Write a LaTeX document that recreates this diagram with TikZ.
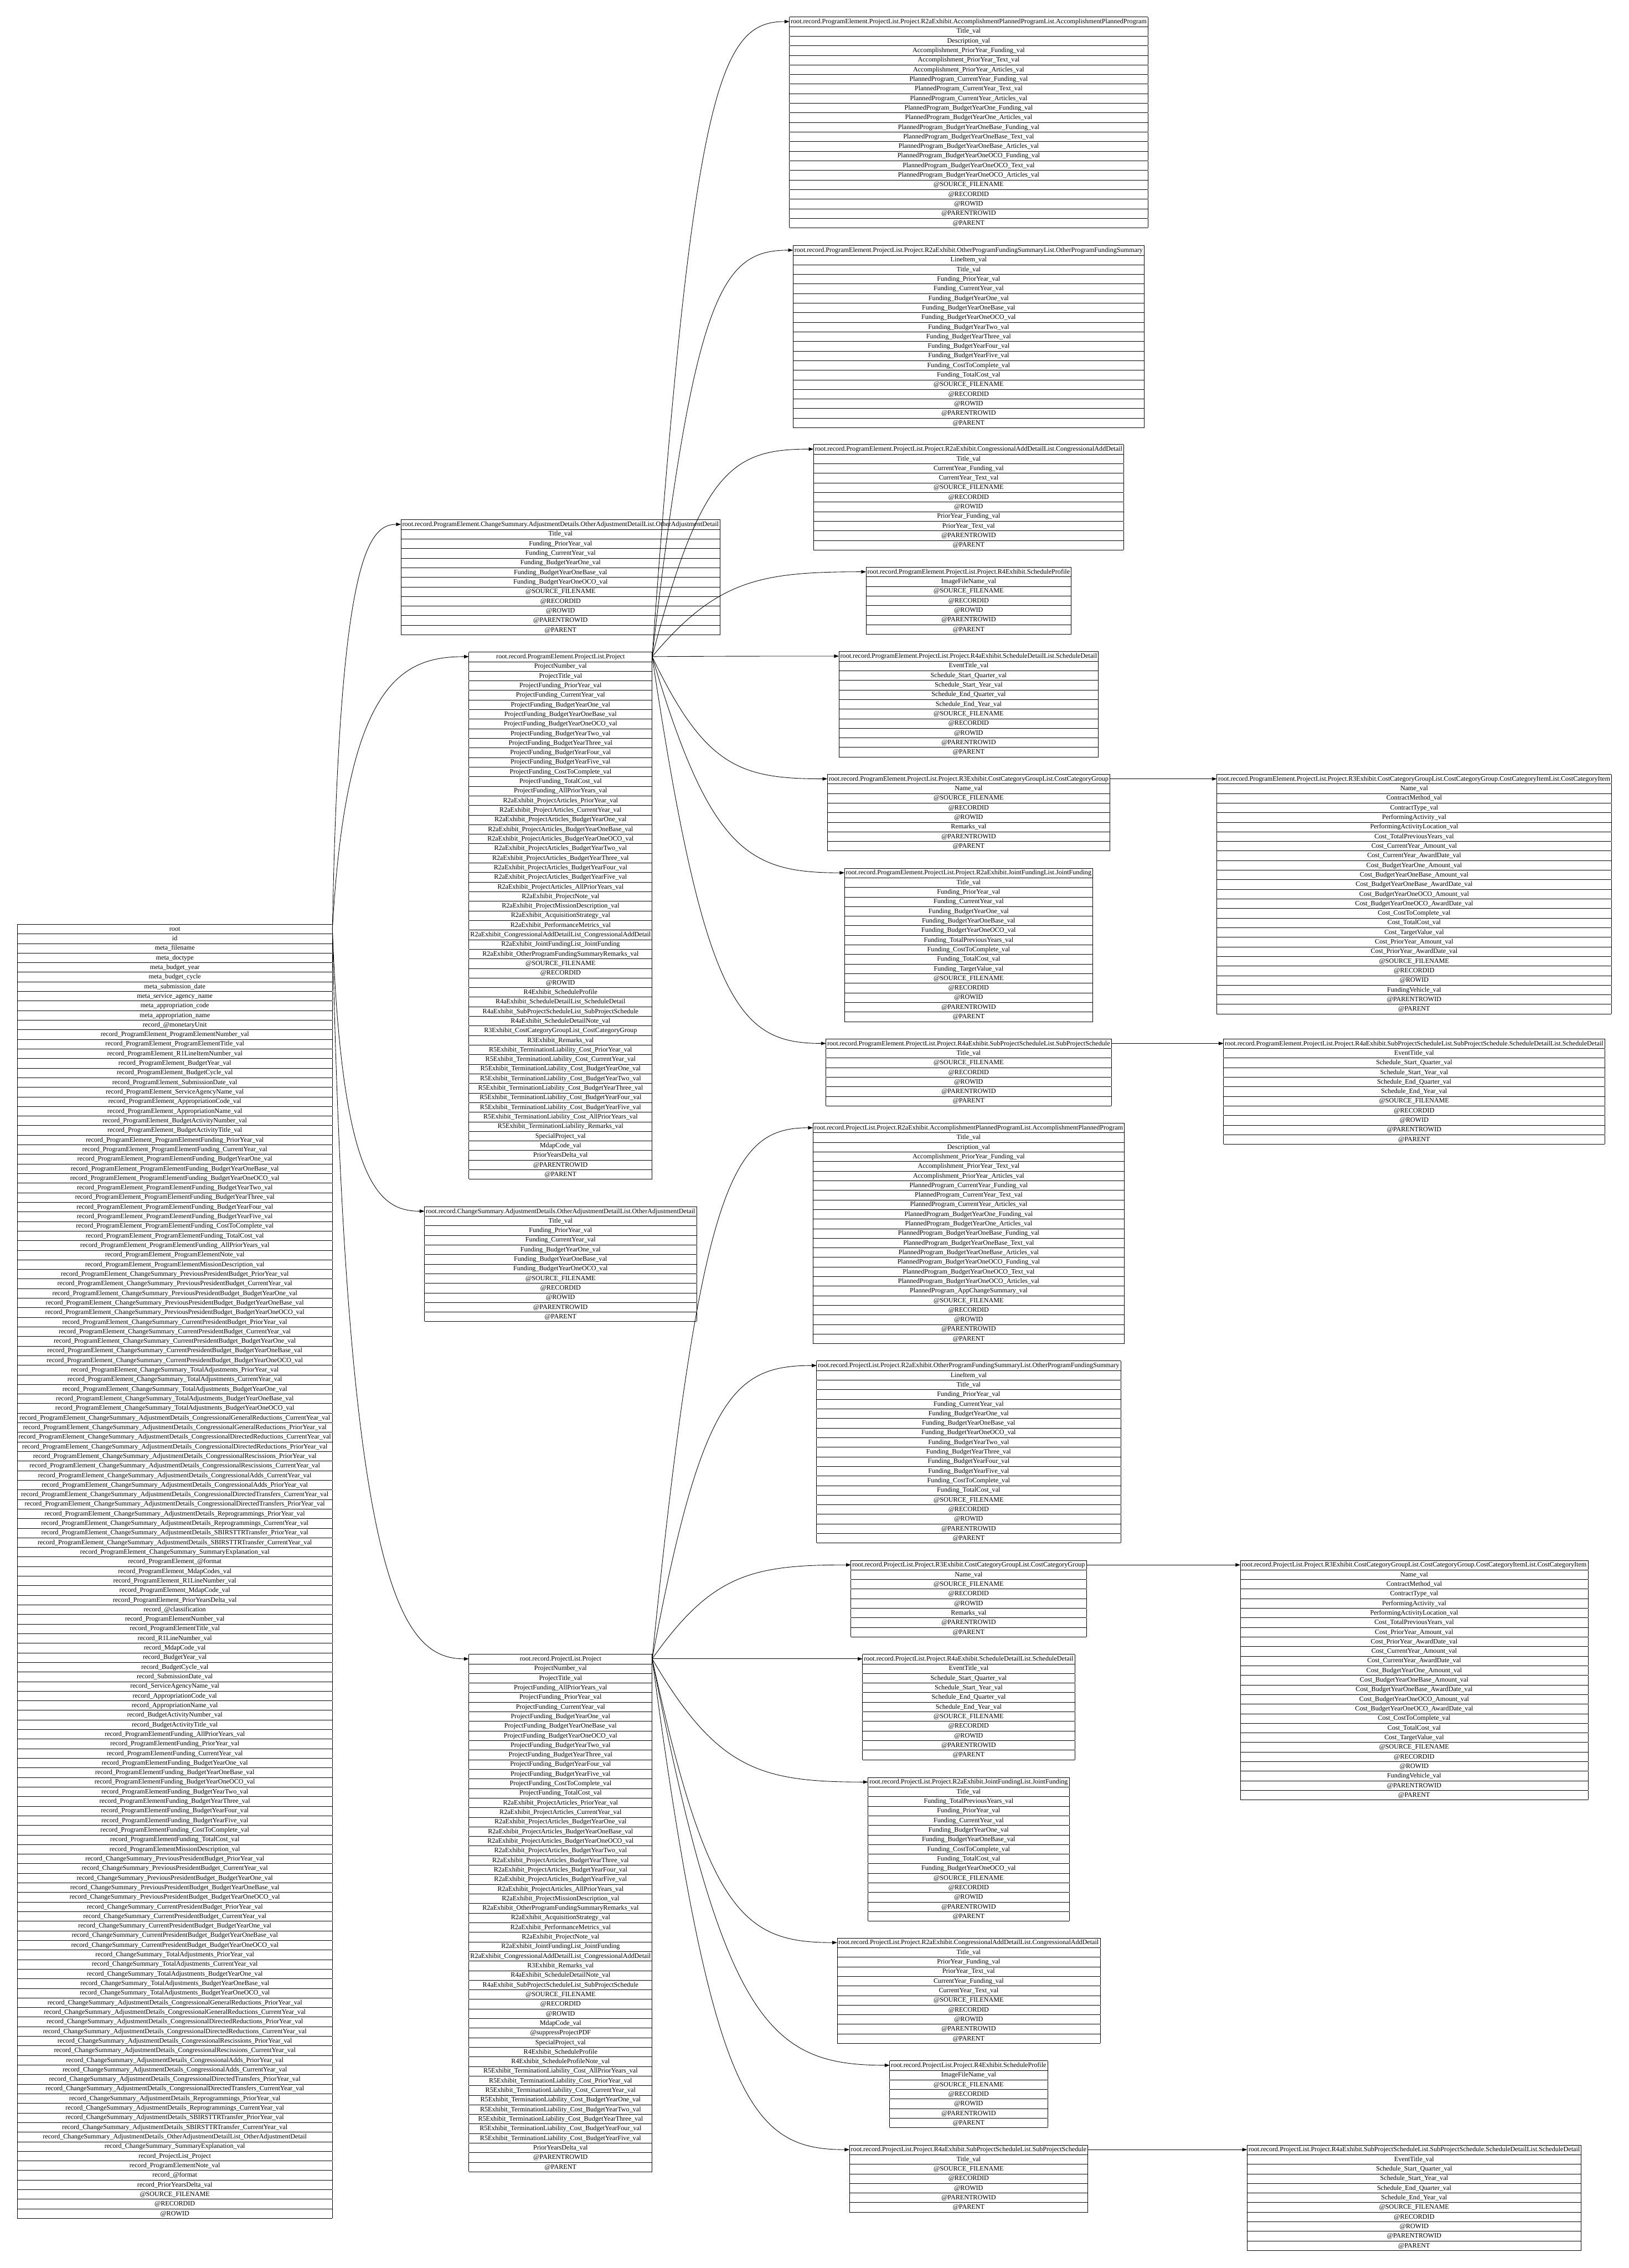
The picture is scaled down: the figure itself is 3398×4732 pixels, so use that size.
\documentclass[tikz,border=0pt]{standalone}
\usepackage{fontspec}
\setmainfont{Liberation Serif}
\usetikzlibrary{arrows.meta,calc}

\ExplSyntaxOn
\tl_new:N \l_rowlist_tl
\NewDocumentCommand \rowlist { m }
  {
    \tl_clear:N \l_rowlist_tl
    \clist_map_inline:nn {#1} { \tl_put_right:Nn \l_rowlist_tl { ##1 \\ \hline } }
    \tl_use:N \l_rowlist_tl
  }
\ExplSyntaxOff
\newcommand\tbl[2]{\begin{tabular}{|c|}\hline #1\\\hline\rowlist{#2}\end{tabular}}

\setlength\arrayrulewidth{.8pt}
\setlength\tabcolsep{3pt}
\renewcommand\arraystretch{1.142857}

\tikzset{
  rec/.style={anchor=north,inner sep=0pt,outer sep=0pt,font=\fontsize{14}{16.8}\selectfont},
  edge/.style={-{Triangle[length=10pt,width=7pt]},line width=1pt}
}
% curved connector from the header row of #2 to the header row of #3
\newcommand\link[3][.3]{%
  \draw[edge] let \p1=([yshift=-10pt]#2.north east), \p2=([yshift=-10pt]#3.north west) in
    (\p1) .. controls ({\x1+#1*(\x2-\x1)},{\y1+.9*(\y2-\y1)}) and ({.5*(\x1+\x2)},\y2) .. (\p2);}

\begin{document}
\catcode`\_=12
\begin{tikzpicture}[x=1pt,y=-1pt]
  \fill[white] (0,0) rectangle (3398,4732);
  \useasboundingbox (0,0) rectangle (3398,4732);

  % flat root table
  \node[rec] (root) at (364.7,1928) {\tbl{root}{id,meta_filename,meta_doctype,meta_budget_year,meta_budget_cycle,meta_submission_date,meta_service_agency_name,meta_appropriation_code,meta_appropriation_name,record_@monetaryUnit,
    record_ProgramElement_ProgramElementNumber_val,record_ProgramElement_ProgramElementTitle_val,record_ProgramElement_R1LineItemNumber_val,record_ProgramElement_BudgetYear_val,record_ProgramElement_BudgetCycle_val,record_ProgramElement_SubmissionDate_val,record_ProgramElement_ServiceAgencyName_val,record_ProgramElement_AppropriationCode_val,record_ProgramElement_AppropriationName_val,record_ProgramElement_BudgetActivityNumber_val,record_ProgramElement_BudgetActivityTitle_val,
    record_ProgramElement_ProgramElementFunding_PriorYear_val,record_ProgramElement_ProgramElementFunding_CurrentYear_val,record_ProgramElement_ProgramElementFunding_BudgetYearOne_val,record_ProgramElement_ProgramElementFunding_BudgetYearOneBase_val,record_ProgramElement_ProgramElementFunding_BudgetYearOneOCO_val,record_ProgramElement_ProgramElementFunding_BudgetYearTwo_val,record_ProgramElement_ProgramElementFunding_BudgetYearThree_val,record_ProgramElement_ProgramElementFunding_BudgetYearFour_val,record_ProgramElement_ProgramElementFunding_BudgetYearFive_val,record_ProgramElement_ProgramElementFunding_CostToComplete_val,record_ProgramElement_ProgramElementFunding_TotalCost_val,record_ProgramElement_ProgramElementFunding_AllPriorYears_val,
    record_ProgramElement_ProgramElementNote_val,record_ProgramElement_ProgramElementMissionDescription_val,
    record_ProgramElement_ChangeSummary_PreviousPresidentBudget_PriorYear_val,record_ProgramElement_ChangeSummary_PreviousPresidentBudget_CurrentYear_val,record_ProgramElement_ChangeSummary_PreviousPresidentBudget_BudgetYearOne_val,record_ProgramElement_ChangeSummary_PreviousPresidentBudget_BudgetYearOneBase_val,record_ProgramElement_ChangeSummary_PreviousPresidentBudget_BudgetYearOneOCO_val,
    record_ProgramElement_ChangeSummary_CurrentPresidentBudget_PriorYear_val,record_ProgramElement_ChangeSummary_CurrentPresidentBudget_CurrentYear_val,record_ProgramElement_ChangeSummary_CurrentPresidentBudget_BudgetYearOne_val,record_ProgramElement_ChangeSummary_CurrentPresidentBudget_BudgetYearOneBase_val,record_ProgramElement_ChangeSummary_CurrentPresidentBudget_BudgetYearOneOCO_val,
    record_ProgramElement_ChangeSummary_TotalAdjustments_PriorYear_val,record_ProgramElement_ChangeSummary_TotalAdjustments_CurrentYear_val,record_ProgramElement_ChangeSummary_TotalAdjustments_BudgetYearOne_val,record_ProgramElement_ChangeSummary_TotalAdjustments_BudgetYearOneBase_val,record_ProgramElement_ChangeSummary_TotalAdjustments_BudgetYearOneOCO_val,
    record_ProgramElement_ChangeSummary_AdjustmentDetails_CongressionalGeneralReductions_CurrentYear_val,record_ProgramElement_ChangeSummary_AdjustmentDetails_CongressionalGeneralReductions_PriorYear_val,record_ProgramElement_ChangeSummary_AdjustmentDetails_CongressionalDirectedReductions_CurrentYear_val,record_ProgramElement_ChangeSummary_AdjustmentDetails_CongressionalDirectedReductions_PriorYear_val,record_ProgramElement_ChangeSummary_AdjustmentDetails_CongressionalRescissions_PriorYear_val,record_ProgramElement_ChangeSummary_AdjustmentDetails_CongressionalRescissions_CurrentYear_val,record_ProgramElement_ChangeSummary_AdjustmentDetails_CongressionalAdds_CurrentYear_val,record_ProgramElement_ChangeSummary_AdjustmentDetails_CongressionalAdds_PriorYear_val,record_ProgramElement_ChangeSummary_AdjustmentDetails_CongressionalDirectedTransfers_CurrentYear_val,record_ProgramElement_ChangeSummary_AdjustmentDetails_CongressionalDirectedTransfers_PriorYear_val,record_ProgramElement_ChangeSummary_AdjustmentDetails_Reprogrammings_PriorYear_val,record_ProgramElement_ChangeSummary_AdjustmentDetails_Reprogrammings_CurrentYear_val,record_ProgramElement_ChangeSummary_AdjustmentDetails_SBIRSTTRTransfer_PriorYear_val,record_ProgramElement_ChangeSummary_AdjustmentDetails_SBIRSTTRTransfer_CurrentYear_val,
    record_ProgramElement_ChangeSummary_SummaryExplanation_val,record_ProgramElement_@format,record_ProgramElement_MdapCodes_val,record_ProgramElement_R1LineNumber_val,record_ProgramElement_MdapCode_val,record_ProgramElement_PriorYearsDelta_val,
    record_@classification,record_ProgramElementNumber_val,record_ProgramElementTitle_val,record_R1LineNumber_val,record_MdapCode_val,record_BudgetYear_val,record_BudgetCycle_val,record_SubmissionDate_val,record_ServiceAgencyName_val,record_AppropriationCode_val,record_AppropriationName_val,record_BudgetActivityNumber_val,record_BudgetActivityTitle_val,
    record_ProgramElementFunding_AllPriorYears_val,record_ProgramElementFunding_PriorYear_val,record_ProgramElementFunding_CurrentYear_val,record_ProgramElementFunding_BudgetYearOne_val,record_ProgramElementFunding_BudgetYearOneBase_val,record_ProgramElementFunding_BudgetYearOneOCO_val,record_ProgramElementFunding_BudgetYearTwo_val,record_ProgramElementFunding_BudgetYearThree_val,record_ProgramElementFunding_BudgetYearFour_val,record_ProgramElementFunding_BudgetYearFive_val,record_ProgramElementFunding_CostToComplete_val,record_ProgramElementFunding_TotalCost_val,
    record_ProgramElementMissionDescription_val,
    record_ChangeSummary_PreviousPresidentBudget_PriorYear_val,record_ChangeSummary_PreviousPresidentBudget_CurrentYear_val,record_ChangeSummary_PreviousPresidentBudget_BudgetYearOne_val,record_ChangeSummary_PreviousPresidentBudget_BudgetYearOneBase_val,record_ChangeSummary_PreviousPresidentBudget_BudgetYearOneOCO_val,
    record_ChangeSummary_CurrentPresidentBudget_PriorYear_val,record_ChangeSummary_CurrentPresidentBudget_CurrentYear_val,record_ChangeSummary_CurrentPresidentBudget_BudgetYearOne_val,record_ChangeSummary_CurrentPresidentBudget_BudgetYearOneBase_val,record_ChangeSummary_CurrentPresidentBudget_BudgetYearOneOCO_val,
    record_ChangeSummary_TotalAdjustments_PriorYear_val,record_ChangeSummary_TotalAdjustments_CurrentYear_val,record_ChangeSummary_TotalAdjustments_BudgetYearOne_val,record_ChangeSummary_TotalAdjustments_BudgetYearOneBase_val,record_ChangeSummary_TotalAdjustments_BudgetYearOneOCO_val,
    record_ChangeSummary_AdjustmentDetails_CongressionalGeneralReductions_PriorYear_val,record_ChangeSummary_AdjustmentDetails_CongressionalGeneralReductions_CurrentYear_val,record_ChangeSummary_AdjustmentDetails_CongressionalDirectedReductions_PriorYear_val,record_ChangeSummary_AdjustmentDetails_CongressionalDirectedReductions_CurrentYear_val,record_ChangeSummary_AdjustmentDetails_CongressionalRescissions_PriorYear_val,record_ChangeSummary_AdjustmentDetails_CongressionalRescissions_CurrentYear_val,record_ChangeSummary_AdjustmentDetails_CongressionalAdds_PriorYear_val,record_ChangeSummary_AdjustmentDetails_CongressionalAdds_CurrentYear_val,record_ChangeSummary_AdjustmentDetails_CongressionalDirectedTransfers_PriorYear_val,record_ChangeSummary_AdjustmentDetails_CongressionalDirectedTransfers_CurrentYear_val,record_ChangeSummary_AdjustmentDetails_Reprogrammings_PriorYear_val,record_ChangeSummary_AdjustmentDetails_Reprogrammings_CurrentYear_val,record_ChangeSummary_AdjustmentDetails_SBIRSTTRTransfer_PriorYear_val,record_ChangeSummary_AdjustmentDetails_SBIRSTTRTransfer_CurrentYear_val,
    record_ChangeSummary_AdjustmentDetails_OtherAdjustmentDetailList_OtherAdjustmentDetail,record_ChangeSummary_SummaryExplanation_val,record_ProjectList_Project,record_ProgramElementNote_val,record_@format,record_PriorYearsDelta_val,@SOURCE_FILENAME,@RECORDID,@ROWID}};

  % second level
  \node[rec] (pecs) at (1169.5,1084) {\tbl{root.record.ProgramElement.ChangeSummary.AdjustmentDetails.OtherAdjustmentDetailList.OtherAdjustmentDetail}{Title_val,Funding_PriorYear_val,Funding_CurrentYear_val,Funding_BudgetYearOne_val,Funding_BudgetYearOneBase_val,Funding_BudgetYearOneOCO_val,@SOURCE_FILENAME,@RECORDID,@ROWID,@PARENTROWID,@PARENT}};
  \node[rec] (peproj) at (1169.5,1360) {\tbl{root.record.ProgramElement.ProjectList.Project}{ProjectNumber_val,ProjectTitle_val,ProjectFunding_PriorYear_val,ProjectFunding_CurrentYear_val,ProjectFunding_BudgetYearOne_val,ProjectFunding_BudgetYearOneBase_val,ProjectFunding_BudgetYearOneOCO_val,ProjectFunding_BudgetYearTwo_val,ProjectFunding_BudgetYearThree_val,ProjectFunding_BudgetYearFour_val,ProjectFunding_BudgetYearFive_val,ProjectFunding_CostToComplete_val,ProjectFunding_TotalCost_val,ProjectFunding_AllPriorYears_val,
    R2aExhibit_ProjectArticles_PriorYear_val,R2aExhibit_ProjectArticles_CurrentYear_val,R2aExhibit_ProjectArticles_BudgetYearOne_val,R2aExhibit_ProjectArticles_BudgetYearOneBase_val,R2aExhibit_ProjectArticles_BudgetYearOneOCO_val,R2aExhibit_ProjectArticles_BudgetYearTwo_val,R2aExhibit_ProjectArticles_BudgetYearThree_val,R2aExhibit_ProjectArticles_BudgetYearFour_val,R2aExhibit_ProjectArticles_BudgetYearFive_val,R2aExhibit_ProjectArticles_AllPriorYears_val,
    R2aExhibit_ProjectNote_val,R2aExhibit_ProjectMissionDescription_val,R2aExhibit_AcquisitionStrategy_val,R2aExhibit_PerformanceMetrics_val,R2aExhibit_CongressionalAddDetailList_CongressionalAddDetail,R2aExhibit_JointFundingList_JointFunding,R2aExhibit_OtherProgramFundingSummaryRemarks_val,@SOURCE_FILENAME,@RECORDID,@ROWID,
    R4Exhibit_ScheduleProfile,R4aExhibit_ScheduleDetailList_ScheduleDetail,R4aExhibit_SubProjectScheduleList_SubProjectSchedule,R4aExhibit_ScheduleDetailNote_val,R3Exhibit_CostCategoryGroupList_CostCategoryGroup,R3Exhibit_Remarks_val,
    R5Exhibit_TerminationLiability_Cost_PriorYear_val,R5Exhibit_TerminationLiability_Cost_CurrentYear_val,R5Exhibit_TerminationLiability_Cost_BudgetYearOne_val,R5Exhibit_TerminationLiability_Cost_BudgetYearTwo_val,R5Exhibit_TerminationLiability_Cost_BudgetYearThree_val,R5Exhibit_TerminationLiability_Cost_BudgetYearFour_val,R5Exhibit_TerminationLiability_Cost_BudgetYearFive_val,R5Exhibit_TerminationLiability_Cost_AllPriorYears_val,R5Exhibit_TerminationLiability_Remarks_val,
    SpecialProject_val,MdapCode_val,PriorYearsDelta_val,@PARENTROWID,@PARENT}};
  \node[rec] (recs) at (1169.5,2517) {\tbl{root.record.ChangeSummary.AdjustmentDetails.OtherAdjustmentDetailList.OtherAdjustmentDetail}{Title_val,Funding_PriorYear_val,Funding_CurrentYear_val,Funding_BudgetYearOne_val,Funding_BudgetYearOneBase_val,Funding_BudgetYearOneOCO_val,@SOURCE_FILENAME,@RECORDID,@ROWID,@PARENTROWID,@PARENT}};
  \node[rec] (reproj) at (1169.5,3451) {\tbl{root.record.ProjectList.Project}{ProjectNumber_val,ProjectTitle_val,ProjectFunding_AllPriorYears_val,ProjectFunding_PriorYear_val,ProjectFunding_CurrentYear_val,ProjectFunding_BudgetYearOne_val,ProjectFunding_BudgetYearOneBase_val,ProjectFunding_BudgetYearOneOCO_val,ProjectFunding_BudgetYearTwo_val,ProjectFunding_BudgetYearThree_val,ProjectFunding_BudgetYearFour_val,ProjectFunding_BudgetYearFive_val,ProjectFunding_CostToComplete_val,ProjectFunding_TotalCost_val,
    R2aExhibit_ProjectArticles_PriorYear_val,R2aExhibit_ProjectArticles_CurrentYear_val,R2aExhibit_ProjectArticles_BudgetYearOne_val,R2aExhibit_ProjectArticles_BudgetYearOneBase_val,R2aExhibit_ProjectArticles_BudgetYearOneOCO_val,R2aExhibit_ProjectArticles_BudgetYearTwo_val,R2aExhibit_ProjectArticles_BudgetYearThree_val,R2aExhibit_ProjectArticles_BudgetYearFour_val,R2aExhibit_ProjectArticles_BudgetYearFive_val,R2aExhibit_ProjectArticles_AllPriorYears_val,
    R2aExhibit_ProjectMissionDescription_val,R2aExhibit_OtherProgramFundingSummaryRemarks_val,R2aExhibit_AcquisitionStrategy_val,R2aExhibit_PerformanceMetrics_val,R2aExhibit_ProjectNote_val,R2aExhibit_JointFundingList_JointFunding,R2aExhibit_CongressionalAddDetailList_CongressionalAddDetail,R3Exhibit_Remarks_val,R4aExhibit_ScheduleDetailNote_val,R4aExhibit_SubProjectScheduleList_SubProjectSchedule,
    @SOURCE_FILENAME,@RECORDID,@ROWID,MdapCode_val,@suppressProjectPDF,SpecialProject_val,R4Exhibit_ScheduleProfile,R4Exhibit_ScheduleProfileNote_val,
    R5Exhibit_TerminationLiability_Cost_AllPriorYears_val,R5Exhibit_TerminationLiability_Cost_PriorYear_val,R5Exhibit_TerminationLiability_Cost_CurrentYear_val,R5Exhibit_TerminationLiability_Cost_BudgetYearOne_val,R5Exhibit_TerminationLiability_Cost_BudgetYearTwo_val,R5Exhibit_TerminationLiability_Cost_BudgetYearThree_val,R5Exhibit_TerminationLiability_Cost_BudgetYearFour_val,R5Exhibit_TerminationLiability_Cost_BudgetYearFive_val,
    PriorYearsDelta_val,@PARENTROWID,@PARENT}};

  % children of ProgramElement project
  \node[rec] (peacc) at (2021,35) {\tbl{root.record.ProgramElement.ProjectList.Project.R2aExhibit.AccomplishmentPlannedProgramList.AccomplishmentPlannedProgram}{Title_val,Description_val,Accomplishment_PriorYear_Funding_val,Accomplishment_PriorYear_Text_val,Accomplishment_PriorYear_Articles_val,PlannedProgram_CurrentYear_Funding_val,PlannedProgram_CurrentYear_Text_val,PlannedProgram_CurrentYear_Articles_val,PlannedProgram_BudgetYearOne_Funding_val,PlannedProgram_BudgetYearOne_Articles_val,PlannedProgram_BudgetYearOneBase_Funding_val,PlannedProgram_BudgetYearOneBase_Text_val,PlannedProgram_BudgetYearOneBase_Articles_val,PlannedProgram_BudgetYearOneOCO_Funding_val,PlannedProgram_BudgetYearOneOCO_Text_val,PlannedProgram_BudgetYearOneOCO_Articles_val,@SOURCE_FILENAME,@RECORDID,@ROWID,@PARENTROWID,@PARENT}};
  \node[rec] (peopf) at (2021,512) {\tbl{root.record.ProgramElement.ProjectList.Project.R2aExhibit.OtherProgramFundingSummaryList.OtherProgramFundingSummary}{LineItem_val,Title_val,Funding_PriorYear_val,Funding_CurrentYear_val,Funding_BudgetYearOne_val,Funding_BudgetYearOneBase_val,Funding_BudgetYearOneOCO_val,Funding_BudgetYearTwo_val,Funding_BudgetYearThree_val,Funding_BudgetYearFour_val,Funding_BudgetYearFive_val,Funding_CostToComplete_val,Funding_TotalCost_val,@SOURCE_FILENAME,@RECORDID,@ROWID,@PARENTROWID,@PARENT}};
  \node[rec] (pecad) at (2021,927) {\tbl{root.record.ProgramElement.ProjectList.Project.R2aExhibit.CongressionalAddDetailList.CongressionalAddDetail}{Title_val,CurrentYear_Funding_val,CurrentYear_Text_val,@SOURCE_FILENAME,@RECORDID,@ROWID,PriorYear_Funding_val,PriorYear_Text_val,@PARENTROWID,@PARENT}};
  \node[rec] (pesched) at (2021,1183) {\tbl{root.record.ProgramElement.ProjectList.Project.R4Exhibit.ScheduleProfile}{ImageFileName_val,@SOURCE_FILENAME,@RECORDID,@ROWID,@PARENTROWID,@PARENT}};
  \node[rec] (pedetail) at (2021,1359) {\tbl{root.record.ProgramElement.ProjectList.Project.R4aExhibit.ScheduleDetailList.ScheduleDetail}{EventTitle_val,Schedule_Start_Quarter_val,Schedule_Start_Year_val,Schedule_End_Quarter_val,Schedule_End_Year_val,@SOURCE_FILENAME,@RECORDID,@ROWID,@PARENTROWID,@PARENT}};
  \node[rec] (pecost) at (2021,1615) {\tbl{root.record.ProgramElement.ProjectList.Project.R3Exhibit.CostCategoryGroupList.CostCategoryGroup}{Name_val,@SOURCE_FILENAME,@RECORDID,@ROWID,Remarks_val,@PARENTROWID,@PARENT}};
  \node[rec] (pejoint) at (2021,1811) {\tbl{root.record.ProgramElement.ProjectList.Project.R2aExhibit.JointFundingList.JointFunding}{Title_val,Funding_PriorYear_val,Funding_CurrentYear_val,Funding_BudgetYearOne_val,Funding_BudgetYearOneBase_val,Funding_BudgetYearOneOCO_val,Funding_TotalPreviousYears_val,Funding_CostToComplete_val,Funding_TotalCost_val,Funding_TargetValue_val,@SOURCE_FILENAME,@RECORDID,@ROWID,@PARENTROWID,@PARENT}};
  \node[rec] (pesub) at (2021,2167) {\tbl{root.record.ProgramElement.ProjectList.Project.R4aExhibit.SubProjectScheduleList.SubProjectSchedule}{Title_val,@SOURCE_FILENAME,@RECORDID,@ROWID,@PARENTROWID,@PARENT}};

  % children of record project
  \node[rec] (racc) at (2021,2343) {\tbl{root.record.ProjectList.Project.R2aExhibit.AccomplishmentPlannedProgramList.AccomplishmentPlannedProgram}{Title_val,Description_val,Accomplishment_PriorYear_Funding_val,Accomplishment_PriorYear_Text_val,Accomplishment_PriorYear_Articles_val,PlannedProgram_CurrentYear_Funding_val,PlannedProgram_CurrentYear_Text_val,PlannedProgram_CurrentYear_Articles_val,PlannedProgram_BudgetYearOne_Funding_val,PlannedProgram_BudgetYearOne_Articles_val,PlannedProgram_BudgetYearOneBase_Funding_val,PlannedProgram_BudgetYearOneBase_Text_val,PlannedProgram_BudgetYearOneBase_Articles_val,PlannedProgram_BudgetYearOneOCO_Funding_val,PlannedProgram_BudgetYearOneOCO_Text_val,PlannedProgram_BudgetYearOneOCO_Articles_val,PlannedProgram_AppChangeSummary_val,@SOURCE_FILENAME,@RECORDID,@ROWID,@PARENTROWID,@PARENT}};
  \node[rec] (ropf) at (2021,2839) {\tbl{root.record.ProjectList.Project.R2aExhibit.OtherProgramFundingSummaryList.OtherProgramFundingSummary}{LineItem_val,Title_val,Funding_PriorYear_val,Funding_CurrentYear_val,Funding_BudgetYearOne_val,Funding_BudgetYearOneBase_val,Funding_BudgetYearOneOCO_val,Funding_BudgetYearTwo_val,Funding_BudgetYearThree_val,Funding_BudgetYearFour_val,Funding_BudgetYearFive_val,Funding_CostToComplete_val,Funding_TotalCost_val,@SOURCE_FILENAME,@RECORDID,@ROWID,@PARENTROWID,@PARENT}};
  \node[rec] (rcost) at (2021,3255) {\tbl{root.record.ProjectList.Project.R3Exhibit.CostCategoryGroupList.CostCategoryGroup}{Name_val,@SOURCE_FILENAME,@RECORDID,@ROWID,Remarks_val,@PARENTROWID,@PARENT}};
  \node[rec] (rdetail) at (2021,3451) {\tbl{root.record.ProjectList.Project.R4aExhibit.ScheduleDetailList.ScheduleDetail}{EventTitle_val,Schedule_Start_Quarter_val,Schedule_Start_Year_val,Schedule_End_Quarter_val,Schedule_End_Year_val,@SOURCE_FILENAME,@RECORDID,@ROWID,@PARENTROWID,@PARENT}};
  \node[rec] (rjoint) at (2021,3708) {\tbl{root.record.ProjectList.Project.R2aExhibit.JointFundingList.JointFunding}{Title_val,Funding_TotalPreviousYears_val,Funding_PriorYear_val,Funding_CurrentYear_val,Funding_BudgetYearOne_val,Funding_BudgetYearOneBase_val,Funding_CostToComplete_val,Funding_TotalCost_val,Funding_BudgetYearOneOCO_val,@SOURCE_FILENAME,@RECORDID,@ROWID,@PARENTROWID,@PARENT}};
  \node[rec] (rcad) at (2021,4043) {\tbl{root.record.ProjectList.Project.R2aExhibit.CongressionalAddDetailList.CongressionalAddDetail}{Title_val,PriorYear_Funding_val,PriorYear_Text_val,CurrentYear_Funding_val,CurrentYear_Text_val,@SOURCE_FILENAME,@RECORDID,@ROWID,@PARENTROWID,@PARENT}};
  \node[rec] (rsched) at (2021,4299) {\tbl{root.record.ProjectList.Project.R4Exhibit.ScheduleProfile}{ImageFileName_val,@SOURCE_FILENAME,@RECORDID,@ROWID,@PARENTROWID,@PARENT}};
  \node[rec] (rsub) at (2021,4475) {\tbl{root.record.ProjectList.Project.R4aExhibit.SubProjectScheduleList.SubProjectSchedule}{Title_val,@SOURCE_FILENAME,@RECORDID,@ROWID,@PARENTROWID,@PARENT}};

  % fourth level
  \node[rec] (pecostitem) at (2950.5,1615) {\tbl{root.record.ProgramElement.ProjectList.Project.R3Exhibit.CostCategoryGroupList.CostCategoryGroup.CostCategoryItemList.CostCategoryItem}{Name_val,ContractMethod_val,ContractType_val,PerformingActivity_val,PerformingActivityLocation_val,Cost_TotalPreviousYears_val,Cost_CurrentYear_Amount_val,Cost_CurrentYear_AwardDate_val,Cost_BudgetYearOne_Amount_val,Cost_BudgetYearOneBase_Amount_val,Cost_BudgetYearOneBase_AwardDate_val,Cost_BudgetYearOneOCO_Amount_val,Cost_BudgetYearOneOCO_AwardDate_val,Cost_CostToComplete_val,Cost_TotalCost_val,Cost_TargetValue_val,Cost_PriorYear_Amount_val,Cost_PriorYear_AwardDate_val,@SOURCE_FILENAME,@RECORDID,@ROWID,FundingVehicle_val,@PARENTROWID,@PARENT}};
  \node[rec] (pesubdetail) at (2950.5,2167) {\tbl{root.record.ProgramElement.ProjectList.Project.R4aExhibit.SubProjectScheduleList.SubProjectSchedule.ScheduleDetailList.ScheduleDetail}{EventTitle_val,Schedule_Start_Quarter_val,Schedule_Start_Year_val,Schedule_End_Quarter_val,Schedule_End_Year_val,@SOURCE_FILENAME,@RECORDID,@ROWID,@PARENTROWID,@PARENT}};
  \node[rec] (rcostitem) at (2950.5,3255) {\tbl{root.record.ProjectList.Project.R3Exhibit.CostCategoryGroupList.CostCategoryGroup.CostCategoryItemList.CostCategoryItem}{Name_val,ContractMethod_val,ContractType_val,PerformingActivity_val,PerformingActivityLocation_val,Cost_TotalPreviousYears_val,Cost_PriorYear_Amount_val,Cost_PriorYear_AwardDate_val,Cost_CurrentYear_Amount_val,Cost_CurrentYear_AwardDate_val,Cost_BudgetYearOne_Amount_val,Cost_BudgetYearOneBase_Amount_val,Cost_BudgetYearOneBase_AwardDate_val,Cost_BudgetYearOneOCO_Amount_val,Cost_BudgetYearOneOCO_AwardDate_val,Cost_CostToComplete_val,Cost_TotalCost_val,Cost_TargetValue_val,@SOURCE_FILENAME,@RECORDID,@ROWID,FundingVehicle_val,@PARENTROWID,@PARENT}};
  \node[rec] (rsubdetail) at (2950.5,4475) {\tbl{root.record.ProjectList.Project.R4aExhibit.SubProjectScheduleList.SubProjectSchedule.ScheduleDetailList.ScheduleDetail}{EventTitle_val,Schedule_Start_Quarter_val,Schedule_Start_Year_val,Schedule_End_Quarter_val,Schedule_End_Year_val,@SOURCE_FILENAME,@RECORDID,@ROWID,@PARENTROWID,@PARENT}};

  % connectors
  \foreach \t in {pecs,peproj,recs,reproj} {\link[.1]{root}{\t}}
  \foreach \t in {peacc,peopf,pecad,pesched,pedetail,pecost,pejoint,pesub} {\link{peproj}{\t}}
  \foreach \t in {racc,ropf,rcost,rdetail,rjoint,rcad,rsched,rsub} {\link{reproj}{\t}}
  \link{pecost}{pecostitem}
  \link{pesub}{pesubdetail}
  \link{rcost}{rcostitem}
  \link{rsub}{rsubdetail}
\end{tikzpicture}
\end{document}
